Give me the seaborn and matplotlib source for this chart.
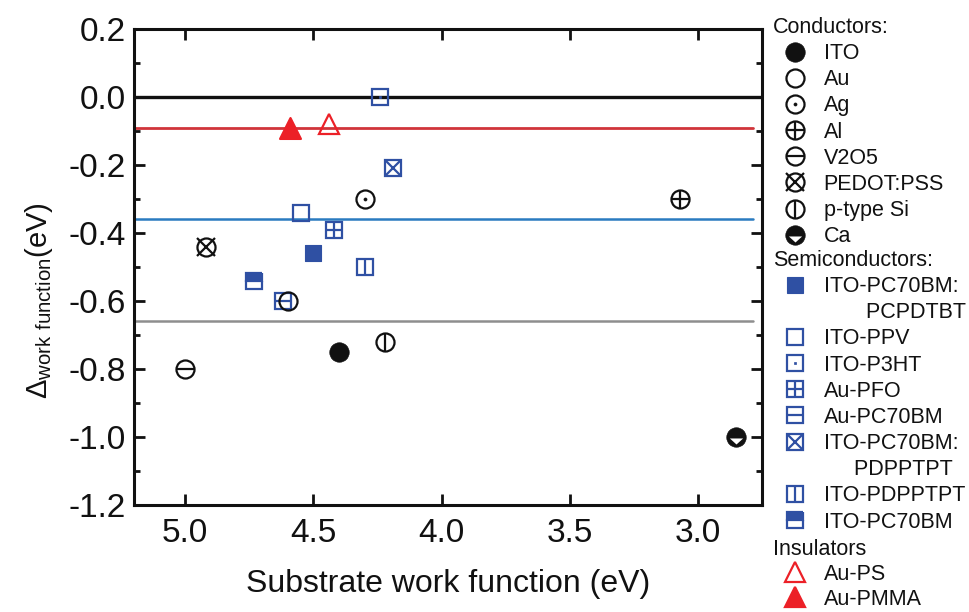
import numpy as np
import pandas as pd
import matplotlib
matplotlib.use("Agg")
import matplotlib.pyplot as plt
import seaborn as sns
from matplotlib.lines import Line2D
from matplotlib.path import Path
from matplotlib.legend_handler import HandlerTuple

# ---------------- data ----------------
conductors = ["ITO", "Au", "Ag", "Al", "V2O5", "PEDOT:PSS", "p-type Si", "Ca"]
cond_x = [4.40, 4.60, 4.30, 3.07, 5.00, 4.92, 4.22, 2.85]
cond_y = [-0.75, -0.60, -0.30, -0.30, -0.80, -0.44, -0.72, -1.00]

semis = ["ITO-PC70BM:PCPDTBT", "ITO-PPV", "ITO-P3HT", "Au-PFO", "Au-PC70BM",
         "ITO-PC70BM:PDPPTPT", "ITO-PDPPTPT", "ITO-PC70BM"]
semi_x = [4.50, 4.55, 4.24, 4.42, 4.62, 4.19, 4.30, 4.73]
semi_y = [-0.46, -0.34, 0.00, -0.39, -0.60, -0.21, -0.50, -0.54]

insulators = ["Au-PS", "Au-PMMA"]
ins_x = [4.44, 4.59]
ins_y = [-0.08, -0.09]

ref_levels = [0.0, -0.09, -0.36, -0.66]
ref_colors = ["#111111", "#D0343A", "#2A7BC0", "#8E8E8E"]
ref_widths = [2.4, 2.0, 1.8, 1.8]

x_ticks = [5.0, 4.5, 4.0, 3.5, 3.0]
y_ticks = [0.2, 0.0, -0.2, -0.4, -0.6, -0.8, -1.0, -1.2]

# ---------------- style ----------------
sns.set_theme(style="ticks")
plt.rcParams["font.family"] = ["Liberation Sans", "DejaVu Sans"]
plt.rcParams["axes.unicode_minus"] = False
plt.rcParams["mathtext.fontset"] = "custom"
plt.rcParams["mathtext.rm"] = "Liberation Sans"
plt.rcParams["mathtext.it"] = "DejaVu Sans:italic"
plt.rcParams["mathtext.bf"] = "Liberation Sans:bold"

BLK = "#111111"
BLU = "#2F50A3"
RED = "#EC2027"
CMS, SMS, TMS, EW = 13, 11, 15, 1.6

ca_tri = Path([(-0.68, -0.1), (0.68, -0.1), (0.0, -0.72), (-0.68, -0.1)],
              [Path.MOVETO, Path.LINETO, Path.LINETO, Path.CLOSEPOLY])


def circ(extra=None, dot=False):
    lay = [dict(marker="o", ms=CMS, mfc="none", mec=BLK, mew=EW)]
    if extra:
        lay.append(dict(marker=extra, ms=CMS, mec=BLK, mew=EW))
    if dot:
        lay.append(dict(marker="o", ms=2.2, mfc=BLK, mec=BLK, mew=0.5))
    return lay


def sq(extra=None, dot=False, **kw):
    base = dict(marker="s", ms=SMS, mfc="none", mec=BLU, mew=EW)
    base.update(kw)
    lay = [base]
    if extra:
        lay.append(dict(marker=extra, ms=SMS, mec=BLU, mew=EW))
    if dot:
        lay.append(dict(marker="s", ms=2.0, mfc=BLU, mec=BLU, mew=0.5))
    return lay


styles = {
    "ITO": [dict(marker="o", ms=CMS + 1, mfc=BLK, mec=BLK, mew=0.5)],
    "Au": circ(),
    "Ag": circ(dot=True),
    "Al": circ("+"),
    "V2O5": circ("_"),
    "PEDOT:PSS": circ("x"),
    "p-type Si": circ("|"),
    "Ca": [dict(marker="o", ms=CMS + 1, mfc=BLK, mec=BLK, mew=0.5),
           dict(marker=ca_tri, ms=(CMS + 1) * 0.72, mfc="white", mec="none", mew=0)],
    "ITO-PC70BM:PCPDTBT": [dict(marker="s", ms=SMS + 1, mfc=BLU, mec=BLU, mew=0.8)],
    "ITO-PPV": sq(),
    "ITO-P3HT": sq(dot=True),
    "Au-PFO": sq("+"),
    "Au-PC70BM": sq("_"),
    "ITO-PC70BM:PDPPTPT": sq("x"),
    "ITO-PDPPTPT": sq("|"),
    "ITO-PC70BM": sq(mfc=BLU, fillstyle="top", markerfacecoloralt="white"),
    "Au-PS": [dict(marker="^", ms=TMS, mfc="none", mec=RED, mew=EW)],
    "Au-PMMA": [dict(marker="^", ms=TMS, mfc=RED, mec=RED, mew=EW)],
}

# ---------------- figure ----------------
fig = plt.figure(figsize=(9.69, 6.12), dpi=100)
ax = fig.add_axes([134 / 969, 1 - 505 / 612, (762 - 134) / 969, (505 - 29) / 612])

for lv, c, w in zip(ref_levels, ref_colors, ref_widths):
    ax.axhline(lv, color=c, lw=w, zorder=1, xmax=(1.0 if lv == 0.0 else 0.985))

df = pd.DataFrame({
    "label": semis + conductors + insulators,
    "x": semi_x + cond_x + ins_x,
    "y": semi_y + cond_y + ins_y,
})

# filled base marks through seaborn
filled = {"ITO": BLK, "ITO-PC70BM:PCPDTBT": BLU, "Au-PMMA": RED}
for _, r in df.iterrows():
    if r["label"] in filled:
        st = styles[r["label"]][0]
        sns.scatterplot(x=[r["x"]], y=[r["y"]], marker=st["marker"], s=st["ms"] ** 2,
                        color=filled[r["label"]], edgecolor=filled[r["label"]],
                        linewidth=st["mew"], ax=ax, zorder=3, legend=False)
    else:
        for lay in styles[r["label"]]:
            ax.plot([r["x"]], [r["y"]], linestyle="none", zorder=3, **lay)

ax.set_xlim(5.2, 2.75)
ax.set_ylim(-1.2, 0.2)
ax.set_xticks(x_ticks)
ax.set_xticklabels([f"{v:.1f}" for v in x_ticks])
ax.set_yticks(y_ticks)
ax.set_yticklabels([f"{v:.1f}" for v in y_ticks])
ax.set_yticks(np.arange(-1.1, 0.2, 0.2), minor=True)
ax.tick_params(which="both", direction="in", top=True, right=True,
               labelsize=24, width=2.0, colors=BLK)
ax.tick_params(which="major", length=8, pad=6)
ax.tick_params(axis="x", which="major", pad=9.5)
ax.tick_params(which="minor", length=4.5)
for sp in ax.spines.values():
    sp.set_linewidth(2.2)
    sp.set_color(BLK)
    sp.set_visible(True)
ax.grid(False)
ax.set_facecolor("white")

ax.set_xlabel("Substrate work function (eV)", fontsize=23, color=BLK, labelpad=14)
ax.set_ylabel(r"$\mathit{\Delta}_{\mathrm{work\ function}}$(eV)", fontsize=21, color=BLK)
ax.yaxis.set_label_coords(-0.125, 0.43)


# ---------------- legends ----------------
def handle(label):
    return tuple(Line2D([], [], linestyle="none", **lay) for lay in styles[label])


blank = Line2D([], [], linestyle="none")
FS = 15.5
common = dict(loc="upper left", frameon=False, fontsize=FS, title_fontsize=FS,
              borderpad=0, borderaxespad=0, handlelength=2.05, handletextpad=0.3,
              alignment="left",
              handler_map={tuple: HandlerTuple(ndivide=1, pad=0)})

groups = [
    ("Conductors:", [(handle(n), n) for n in conductors], 17, 0.24),
    ("Semiconductors:", [
        (handle("ITO-PC70BM:PCPDTBT"), "ITO-PC70BM:"), (blank, "       PCPDTBT"),
        (handle("ITO-PPV"), "ITO-PPV"), (handle("ITO-P3HT"), "ITO-P3HT"),
        (handle("Au-PFO"), "Au-PFO"), (handle("Au-PC70BM"), "Au-PC70BM"),
        (handle("ITO-PC70BM:PDPPTPT"), "ITO-PC70BM:"), (blank, "     PDPPTPT"),
        (handle("ITO-PDPPTPT"), "ITO-PDPPTPT"), (handle("ITO-PC70BM"), "ITO-PC70BM"),
    ], 250, 0.24),
    ("Insulators", [(handle(n), n) for n in insulators], 539, 0.18),
]
for title, entries, ytop, lsp in groups:
    lg = fig.legend([e[0] for e in entries], [e[1] for e in entries], title=title,
                    bbox_to_anchor=(773 / 969, 1 - ytop / 612), labelspacing=lsp,
                    **common)
    for t in lg.get_texts():
        t.set_color(BLK)
    lg.get_title().set_color(BLK)

fig.savefig("out.png", dpi=100)
